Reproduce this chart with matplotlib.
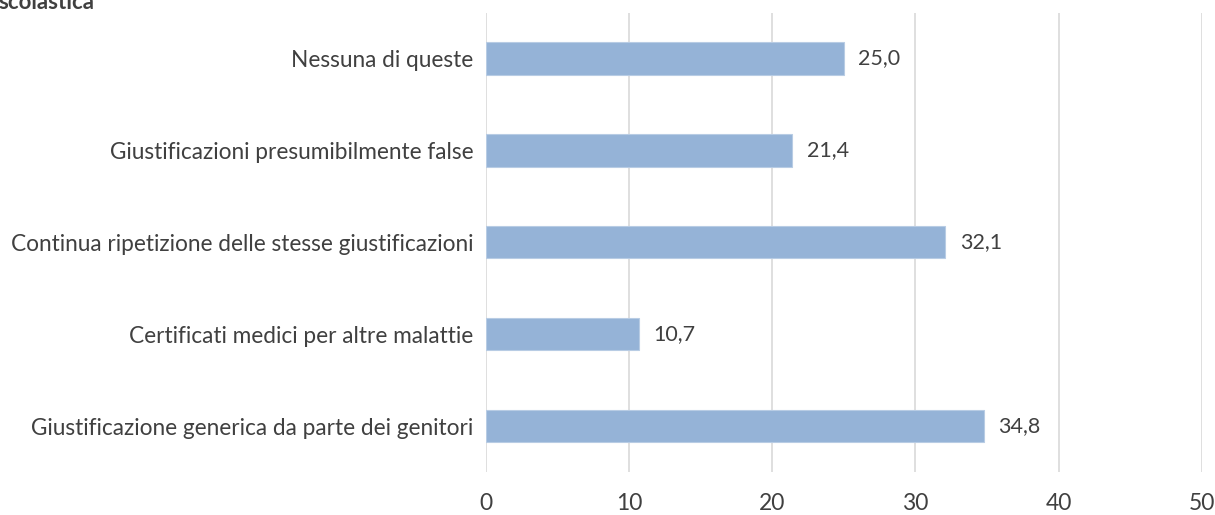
import matplotlib
matplotlib.use('Agg')
import matplotlib.pyplot as plt

categorie = ['Giustificazione generica da parte dei genitori',
             'Certificati medici per altre malattie',
             'Continua ripetizione delle stesse giustificazioni',
             'Giustificazioni presumibilmente false',
             'Nessuna di queste']
valori = [34.8, 10.7, 32.1, 21.4, 25.0]
xticks = [0, 10, 20, 30, 40, 50]

plt.rcParams['font.family'] = ['Lato', 'DejaVu Sans']

fig = plt.figure(figsize=(12.15, 5.15), dpi=100)
ax = fig.add_axes([0.4, 0.0835, 0.589, 0.892])

ypos = range(len(categorie))
ax.barh(ypos, valori, height=0.35, color='#95B3D7', edgecolor='#B8CCE4', linewidth=0.8, zorder=3)
for y, v in zip(ypos, valori):
    ax.text(v + 1.0, y, ('%.1f' % v).replace('.', ','), va='center', ha='left',
            fontsize=15.5, color='#404040')

ax.set_xlim(0, 50)
ax.set_ylim(-0.5, 4.5)
ax.set_xticks(xticks)
ax.set_yticks(list(ypos))
ax.set_yticklabels(categorie, fontsize=16.3, color='#404040')
ax.tick_params(axis='x', labelsize=16.5, colors='#404040', length=0, pad=15)
ax.tick_params(axis='y', length=0, pad=9)
ax.grid(axis='x', color='#D9D9D9', linewidth=1.2, zorder=0)
for s in ax.spines.values():
    s.set_visible(False)

# titolo tagliato in alto come nell'originale
fig.text(-0.001, 0.996, 'scolastica', fontsize=16, fontweight='bold', color='#404040',
         va='center', ha='left')

fig.savefig('out.png', dpi=100)
